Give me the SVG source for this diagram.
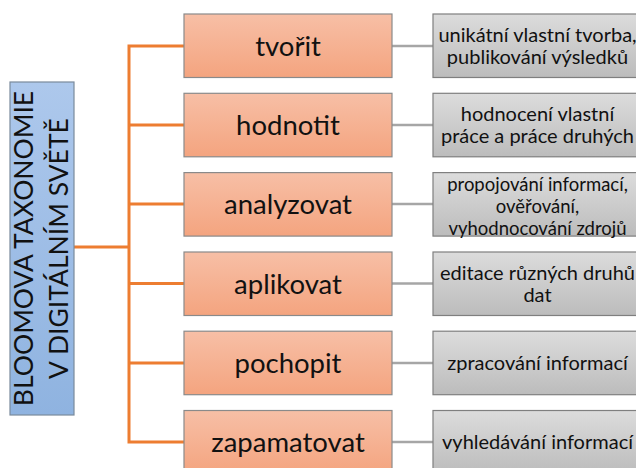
<svg xmlns="http://www.w3.org/2000/svg" width="636" height="468" viewBox="0 0 636 468">
<defs>
<linearGradient id="gO" x1="0" y1="0" x2="0" y2="1"><stop offset="0" stop-color="#f7bfa6"/><stop offset="1" stop-color="#f4a47f"/></linearGradient>
<linearGradient id="gG" x1="0" y1="0" x2="0" y2="1"><stop offset="0" stop-color="#dcdcdc"/><stop offset="1" stop-color="#bcbcbc"/></linearGradient>
<linearGradient id="gB" x1="0" y1="0" x2="0" y2="1"><stop offset="0" stop-color="#adc8ec"/><stop offset="1" stop-color="#8fb3e0"/></linearGradient>
</defs>
<style>
.o{fill:url(#gO);stroke:#8a8a8a;stroke-width:1.2}
.g{fill:url(#gG);stroke:#7f7f7f;stroke-width:1.2}
.b{fill:url(#gB);stroke:#7a8a9c;stroke-width:1.2}
.ot{font-family:Lato,"Liberation Sans",sans-serif;font-size:27.5px;fill:#111;text-anchor:middle}
.gt{font-family:Lato,"Liberation Sans",sans-serif;font-size:20px;fill:#111;text-anchor:middle}
.gs{font-size:18.5px}
.bt{font-family:Lato,"Liberation Sans",sans-serif;font-size:26.5px;fill:#111;text-anchor:middle}
.oc{stroke:#ed7d31;stroke-width:3;fill:none}
.gc{stroke:#a6a6a6;stroke-width:2.5;fill:none}
</style>
<g id="connectors">
<path class="oc" d="M74 247H129M129 44.5V443.5M129 46H184M129 125H184M129 204H184M129 283.5H184M129 363H184M129 442H184"/>
<path class="gc" d="M392 46H433M392 125H433M392 204H433M392 283.5H433M392 363H433M392 442H433"/>
</g>
<g id="root">
<rect class="b" x="10" y="82" width="64" height="333"/>
<text class="bt" transform="translate(42 248.5) rotate(-90)"><tspan x="0" y="-9">BLOOMOVA TAXONOMIE</tspan><tspan x="0" y="26">V DIGITÁLNÍM SVĚTĚ</tspan></text>
</g>
<g id="n1"><rect class="o" x="184" y="14" width="208" height="63.5"/><text class="ot" x="288" y="55.5">tvořit</text></g>
<g id="n2"><rect class="o" x="184" y="93.3" width="208" height="63.5"/><text class="ot" x="288" y="135">hodnotit</text></g>
<g id="n3"><rect class="o" x="184" y="172.6" width="208" height="63.5"/><text class="ot" x="288" y="214">analyzovat</text></g>
<g id="n4"><rect class="o" x="184" y="252" width="208" height="63.5"/><text class="ot" x="288" y="293.5">aplikovat</text></g>
<g id="n5"><rect class="o" x="184" y="331.2" width="208" height="63.5"/><text class="ot" x="288" y="373">pochopit</text></g>
<g id="n6"><rect class="o" x="184" y="410.5" width="208" height="63.5"/><text class="ot" x="288" y="452">zapamatovat</text></g>
<g id="d1"><rect class="g" x="433" y="14" width="210" height="63.5"/><text class="gt"><tspan x="537.5" y="41.7">unikátní vlastní tvorba,</tspan><tspan x="537.5" y="64">publikování výsledků</tspan></text></g>
<g id="d2"><rect class="g" x="433" y="93.3" width="210" height="63.5"/><text class="gt"><tspan x="537.5" y="121">hodnocení vlastní</tspan><tspan x="537.5" y="143">práce a práce druhých</tspan></text></g>
<g id="d3"><rect class="g" x="433" y="172.6" width="210" height="63.5"/><text class="gt gs"><tspan x="537.5" y="190.5">propojování informací,</tspan><tspan x="537.5" y="212.7">ověřování,</tspan><tspan x="537.5" y="234.9">vyhodnocování zdrojů</tspan></text></g>
<g id="d4"><rect class="g" x="433" y="252" width="210" height="63.5"/><text class="gt"><tspan x="537.5" y="280">editace různých druhů</tspan><tspan x="537.5" y="302">dat</tspan></text></g>
<g id="d5"><rect class="g" x="433" y="331.2" width="210" height="63.5"/><text class="gt" x="537.5" y="370">zpracování informací</text></g>
<g id="d6"><rect class="g" x="433" y="410.5" width="210" height="63.5"/><text class="gt" x="537.5" y="449">vyhledávání informací</text></g>
</svg>
